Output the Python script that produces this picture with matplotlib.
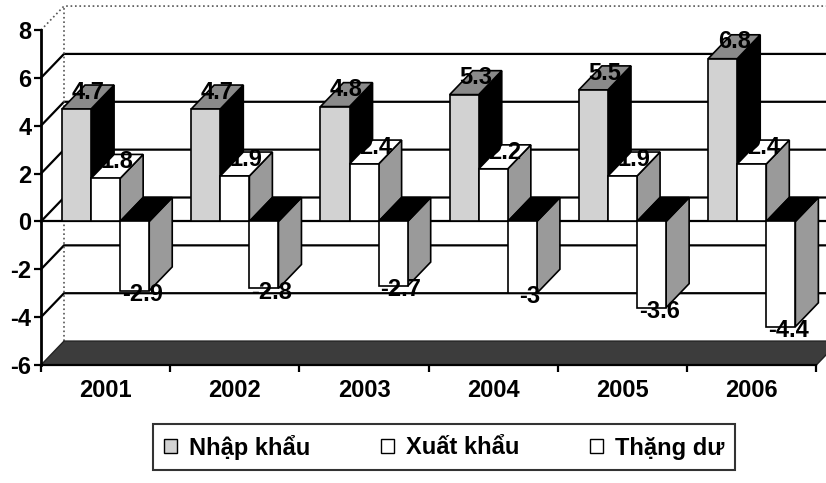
import sys
import matplotlib
matplotlib.use('Agg')
import matplotlib.pyplot as plt
from matplotlib.patches import Polygon, Patch

years = ['2001', '2002', '2003', '2004', '2005', '2006']
nhap_khau = [4.7, 4.7, 4.8, 5.3, 5.5, 6.8]
xuat_khau = [1.8, 1.9, 2.4, 2.2, 1.9, 2.4]
thang_du = [-2.9, -2.8, -2.7, -3, -3.6, -4.4]
series_names = ['Nhập khẩu', 'Xuất khẩu', 'Thặng dư']
y_ticks = [-6, -4, -2, 0, 2, 4, 6, 8]

# depth of the fake 3d look, in data units
DX = 0.178
DY = 1.0
W = 0.225
FONT = ['Liberation Sans', 'DejaVu Sans']

# front, top, side colours per series
faces = [('#d2d2d2', '#8a8a8a', 'black'),
         ('white', 'white', '#9a9a9a'),
         ('white', 'black', '#9a9a9a')]


def draw_box(ax, x0, v, colors, z):
    front, top, side = colors
    t = max(v, 0)
    ax.add_patch(Polygon([(x0 + W, 0), (x0 + W + DX, DY), (x0 + W + DX, v + DY), (x0 + W, v)],
                         facecolor=side, edgecolor='black', lw=1.2, zorder=z))
    ax.add_patch(Polygon([(x0, t), (x0 + W, t), (x0 + W + DX, t + DY), (x0 + DX, t + DY)],
                         facecolor=top, edgecolor='black', lw=1.2, zorder=z))
    ax.bar(x0, v, width=W, align='edge', color=front, edgecolor='black', lw=1.2, zorder=z)


def draw_walls(ax, x_left, x_right, y_min, y_max):
    bx = x_left + DX
    # back wall and left wall grid lines
    for y in y_ticks[1:-1]:
        ax.plot([x_left, bx, x_right + DX], [y, y + DY, y + DY], color='black', lw=1.6,
                zorder=0.5, clip_on=False, solid_joinstyle='miter')
    ax.plot([x_left, bx, x_right + DX], [y_max, y_max + DY, y_max + DY], color='#555555',
            lw=1.2, ls=':', zorder=0.5, clip_on=False)
    ax.plot([bx, bx], [y_min + DY, y_max + DY], color='#555555', lw=1.2, ls=':',
            zorder=0.5, clip_on=False)
    # floor
    ax.add_patch(Polygon([(x_left, y_min), (x_right, y_min), (x_right + DX, y_min + DY),
                          (bx, y_min + DY)], facecolor='#3c3c3c', edgecolor='#222222',
                         lw=1, zorder=0.6, clip_on=False))
    # front line at zero
    ax.plot([x_left, x_right + DX], [0, 0], color='black', lw=1.6, zorder=1, clip_on=False)


def main():
    fig = plt.figure(figsize=(8.26, 4.83), dpi=100)
    ax = fig.add_axes([41 / 826, 118 / 483, 787 / 826, 335 / 483])
    ax.set_xlim(-0.5, 5.59)
    ax.set_ylim(-6, 8)

    draw_walls(ax, -0.5, 5.5, -6, 8)

    series = [nhap_khau, xuat_khau, thang_du]
    z = 2
    for i in range(len(years)):
        for k, values in enumerate(series):
            x0 = i + (k - 1) * W - W / 2
            v = values[i]
            draw_box(ax, x0, v, faces[k], z)
            if v >= 0:
                ax.text(x0 + W / 2 + DX / 2, v + 0.7, str(v), ha='center', va='center',
                        fontsize=17, fontweight='bold', family=FONT, zorder=z + 0.5)
            else:
                ax.text(x0 + W / 2 + 0.06, v - 0.15, '{:g}'.format(v), ha='center',
                        va='center', fontsize=17, fontweight='bold', family=FONT, zorder=z + 0.5)
            z += 1

    # axes
    for s in ['top', 'right']:
        ax.spines[s].set_visible(False)
    ax.spines['left'].set_linewidth(2)
    ax.spines['bottom'].set_linewidth(1.6)
    ax.spines['bottom'].set_bounds(-0.5, 5.5)
    ax.set_yticks(y_ticks)
    ax.set_yticklabels([str(t) for t in y_ticks], fontsize=17, fontweight='bold', family=FONT)
    ax.tick_params(axis='y', length=5, width=1.6, pad=2)
    ax.set_xticks(range(len(years)))
    ax.set_xticklabels(years, fontsize=17, fontweight='bold', family=FONT)
    ax.set_xticks([i - 0.5 for i in range(len(years) + 1)], minor=True)
    ax.tick_params(axis='x', which='major', length=0, pad=10)
    ax.tick_params(axis='x', which='minor', length=5, width=1.6)

    handles = [Patch(facecolor=faces[k][0], edgecolor='black', lw=1) for k in range(3)]
    leg = fig.legend(handles, series_names, loc='center', bbox_to_anchor=(444 / 826, 1 - 447 / 483),
                     ncol=3, frameon=True, fancybox=False, edgecolor='black',
                     prop={'family': FONT, 'size': 17, 'weight': 'bold'},
                     handlelength=0.55, handleheight=0.55, handletextpad=0.5,
                     columnspacing=3.0, borderpad=0.45)
    leg.get_frame().set_linewidth(1.5)

    fig.savefig('out.png', dpi=100)
    return 0


if __name__ == '__main__':
    sys.exit(main())
